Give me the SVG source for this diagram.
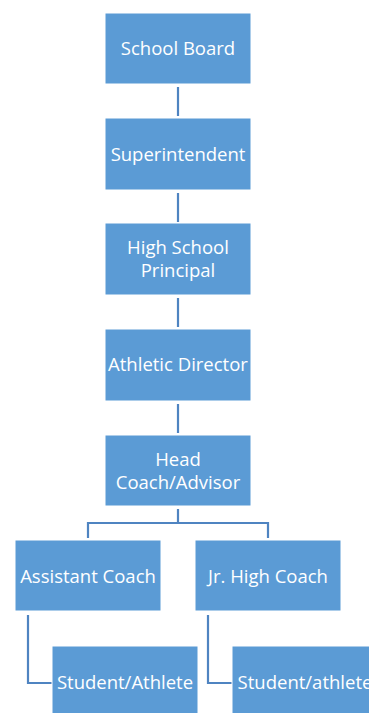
<svg xmlns="http://www.w3.org/2000/svg" width="369" height="713" viewBox="0 0 369 713">
<style>
.box{fill:#5B9BD5;stroke:#FFFFFF;stroke-width:1}
.t{font-family:"Open Sans","Noto Sans",sans-serif;font-size:18.5px;fill:#FFFFFF;text-anchor:middle}
.c{fill:none;stroke:#4F84C1;stroke-width:2.2}
</style>
<rect width="369" height="713" fill="#FFFFFF"/>
<g id="connectors">
<path class="c" d="M178 87V116"/>
<path class="c" d="M178 193V222"/>
<path class="c" d="M178 298V327"/>
<path class="c" d="M178 404V433"/>
<path class="c" d="M178 509V523M88 523H268M88 522V538M268 522V538"/>
<path class="c" d="M28 615V683H52"/>
<path class="c" d="M208 615V683H232"/>
</g>
<g id="school-board"><rect class="box" x="105" y="13" width="146" height="71"/><text class="t" x="178" y="55">School Board</text></g>
<g id="superintendent"><rect class="box" x="105" y="118" width="146" height="72"/><text class="t" x="178" y="161">Superintendent</text></g>
<g id="principal"><rect class="box" x="105" y="223" width="146" height="72"/><text class="t" x="178" y="254">High School</text><text class="t" x="178" y="277">Principal</text></g>
<g id="athletic-director"><rect class="box" x="105" y="329" width="146" height="72"/><text class="t" x="178" y="371">Athletic Director</text></g>
<g id="head-coach"><rect class="box" x="105" y="435" width="146" height="71"/><text class="t" x="178" y="466">Head</text><text class="t" x="178" y="489">Coach/Advisor</text></g>
<g id="assistant-coach"><rect class="box" x="15" y="540" width="146" height="71"/><text class="t" x="88" y="583">Assistant Coach</text></g>
<g id="jr-high-coach"><rect class="box" x="195" y="540" width="146" height="71"/><text class="t" x="268" y="583">Jr. High Coach</text></g>
<g id="student-athlete-1"><rect class="box" x="52" y="646" width="146" height="72"/><text class="t" x="125" y="689">Student/Athlete</text></g>
<g id="student-athlete-2"><rect class="box" x="232" y="646" width="146" height="72"/><text class="t" x="305" y="689">Student/athlete</text></g>
</svg>
